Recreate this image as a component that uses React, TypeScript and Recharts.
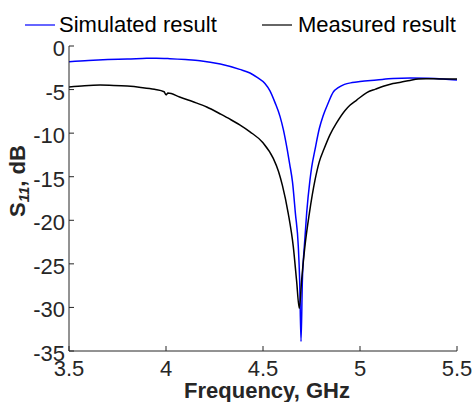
import React from 'react';
import { LineChart, Line, XAxis, YAxis } from 'recharts';

const simFreq = [3.5, 3.6, 3.7, 3.8, 3.9, 3.95, 4.02, 4.1, 4.175, 4.28, 4.38, 4.433, 4.47, 4.51, 4.536, 4.562, 4.588, 4.605, 4.625, 4.638, 4.652, 4.667, 4.682, 4.689, 4.696, 4.703, 4.713, 4.725, 4.742, 4.751, 4.768, 4.79, 4.81, 4.835, 4.862, 4.89, 4.92, 4.96, 5.0, 5.086, 5.17, 5.26, 5.35, 5.43, 5.5];
const simS11 = [-1.8, -1.65, -1.55, -1.5, -1.42, -1.4, -1.45, -1.55, -1.68, -2.07, -2.68, -3.1, -3.6, -4.3, -5.15, -6.5, -8.1, -9.6, -11.9, -13.6, -15.6, -19.2, -23.0, -26.9, -33.9, -26.9, -23.0, -19.2, -15.4, -13.9, -11.9, -9.5, -8.0, -6.6, -5.3, -4.75, -4.4, -4.2, -4.08, -3.9, -3.72, -3.68, -3.7, -3.78, -3.9];

const measFreq = [3.5, 3.58, 3.66, 3.73, 3.8, 3.87, 3.94, 3.99, 4.0, 4.01, 4.07, 4.14, 4.21, 4.28, 4.33, 4.38, 4.433, 4.5, 4.553, 4.58, 4.6, 4.63, 4.656, 4.673, 4.687, 4.699, 4.716, 4.739, 4.768, 4.79, 4.815, 4.845, 4.88, 4.923, 4.948, 4.983, 5.035, 5.08, 5.12, 5.17, 5.21, 5.258, 5.3, 5.34, 5.38, 5.44, 5.5];
const measS11 = [-4.7, -4.55, -4.48, -4.52, -4.6, -4.75, -4.97, -5.25, -5.6, -5.4, -5.85, -6.4, -7.0, -7.8, -8.4, -9.05, -9.85, -11.1, -12.9, -14.4, -16.0, -19.2, -23.0, -26.9, -30.1, -26.9, -23.0, -19.2, -15.4, -13.3, -11.8, -10.2, -8.8, -7.4, -6.8, -6.2, -5.35, -4.95, -4.62, -4.3, -4.15, -3.95, -3.8, -3.75, -3.75, -3.8, -3.8];

const xTicks = [3.5, 4, 4.5, 5, 5.5];
const yTicks = [-35, -30, -25, -20, -15, -10, -5, 0];
const seriesNames = ['Simulated result', 'Measured result'];
const seriesColors = ['#0000FF', '#000000'];
const xLabel = 'Frequency, GHz';

const simData = simFreq.map((f, i) => ({ f, s11: simS11[i] }));
const measData = measFreq.map((f, i) => ({ f, s11: measS11[i] }));

const FONT = '"Liberation Sans", Arial, Helvetica, sans-serif';
const AX = '#262626';
const TICK_LEN = 5;
const FS = 22;

const BottomTick = (props: any) => {
  const { x, y, payload } = props;
  return (
    <g>
      <line x1={x} x2={x} y1={y} y2={y - TICK_LEN} stroke={AX} strokeWidth={1} />
      <text x={x} y={y + 25} textAnchor="middle" fontSize={FS} fontFamily={FONT} fill={AX}>
        {String(payload.value)}
      </text>
    </g>
  );
};

const TopTick = (props: any) => {
  const { x, y } = props;
  return <line x1={x} x2={x} y1={y} y2={y + TICK_LEN} stroke={AX} strokeWidth={1} />;
};

const LeftTick = (props: any) => {
  const { x, y, payload } = props;
  return (
    <g>
      <line x1={x} x2={x + TICK_LEN} y1={y} y2={y} stroke={AX} strokeWidth={1} />
      <text x={x - 4} y={y + 10} textAnchor="end" fontSize={FS} fontFamily={FONT} fill={AX}>
        {String(payload.value)}
      </text>
    </g>
  );
};

const RightTick = (props: any) => {
  const { x, y } = props;
  return <line x1={x} x2={x - TICK_LEN} y1={y} y2={y} stroke={AX} strokeWidth={1} />;
};

const legendPos = [
  { lineX: 25, textX: 59 },
  { lineX: 262, textX: 298 },
];

export default function App() {
  return (
    <div style={{ position: 'absolute', left: 0, top: 0, width: 475, height: 402, background: '#fff' }}>
      <LineChart width={475} height={402} margin={{ top: 46, right: 18, left: 0, bottom: 0 }}>
        <XAxis
          xAxisId="b"
          dataKey="f"
          type="number"
          domain={[3.5, 5.5]}
          ticks={xTicks}
          allowDataOverflow
          height={51}
          tickSize={0}
          tickMargin={0}
          tick={<BottomTick />}
          axisLine={{ stroke: AX, strokeWidth: 1 }}
          tickLine={false}
          interval={0}
        />
        <XAxis
          xAxisId="t"
          orientation="top"
          dataKey="f"
          type="number"
          domain={[3.5, 5.5]}
          ticks={xTicks}
          allowDataOverflow
          height={0}
          tickSize={0}
          tickMargin={0}
          tick={<TopTick />}
          axisLine={{ stroke: AX, strokeWidth: 1 }}
          tickLine={false}
          interval={0}
        />
        <YAxis
          yAxisId="l"
          type="number"
          domain={[-35, 0]}
          ticks={yTicks}
          allowDataOverflow
          width={69}
          tickSize={0}
          tickMargin={0}
          tick={<LeftTick />}
          axisLine={{ stroke: AX, strokeWidth: 1 }}
          tickLine={false}
          interval={0}
        />
        <YAxis
          yAxisId="r"
          orientation="right"
          type="number"
          domain={[-35, 0]}
          ticks={yTicks}
          allowDataOverflow
          width={0}
          tickSize={0}
          tickMargin={0}
          tick={<RightTick />}
          axisLine={{ stroke: AX, strokeWidth: 1 }}
          tickLine={false}
          interval={0}
        />
        <Line
          xAxisId="b"
          yAxisId="l"
          data={simData}
          dataKey="s11"
          name={seriesNames[0]}
          type="monotone"
          stroke={seriesColors[0]}
          strokeWidth={1.5}
          dot={false}
          isAnimationActive={false}
        />
        <Line
          xAxisId="b"
          yAxisId="l"
          data={measData}
          dataKey="s11"
          name={seriesNames[1]}
          type="monotone"
          stroke={seriesColors[1]}
          strokeWidth={1.5}
          dot={false}
          isAnimationActive={false}
        />
      </LineChart>
      <svg
        width={475}
        height={402}
        style={{ position: 'absolute', left: 0, top: 0, pointerEvents: 'none' }}
      >
        {seriesNames.map((n, i) => (
          <g key={n}>
            <line x1={legendPos[i].lineX} x2={legendPos[i].lineX + 30} y1={25} y2={25} stroke={seriesColors[i]} strokeWidth={1.2} />
            <text x={legendPos[i].textX} y={32} fontSize={FS} fontFamily={FONT} fill="#000">
              {n}
            </text>
          </g>
        ))}
        <text x={267} y={398} textAnchor="middle" fontSize={FS} fontWeight="bold" fontFamily={FONT} fill={AX}>
          {xLabel}
        </text>
        <text
          x={25}
          y={181}
          transform="rotate(-90, 25, 181)"
          textAnchor="middle"
          fontSize={FS}
          fontWeight="bold"
          fontFamily={FONT}
          fill={AX}
        >
          S
          <tspan fontSize={15} fontStyle="italic" dy={4}>11</tspan>
          <tspan dy={-4}>, dB</tspan>
        </text>
      </svg>
    </div>
  );
}
